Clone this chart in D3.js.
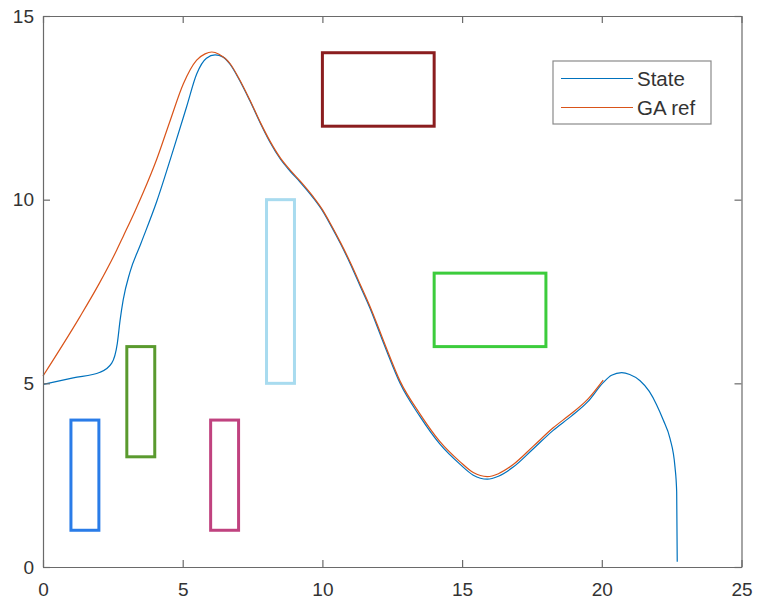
<!DOCTYPE html>
<html>
<head>
<meta charset="utf-8">
<script src="https://cdn.jsdelivr.net/npm/d3@7"></script>
<style>
  html, body { margin: 0; padding: 0; background: #fff; }
  svg { display: block; }
</style>
</head>
<body>
<svg id="chart" width="757" height="603"></svg>
<script>
// ---- Data ----
const xTicks = [0, 5, 10, 15, 20, 25];
const yTicks = [0, 5, 10, 15];

const stateX = [0, 1.08, 2.04, 2.46, 2.66, 2.76, 2.87, 3.11, 3.5, 4.07, 4.66, 5.14, 5.5, 5.85, 6.16, 6.45, 6.7, 7.0, 7.4, 7.8, 8.12, 8.5, 8.84, 9.2, 9.67, 10.0, 10.3, 10.65, 11.0, 11.35, 11.7, 12.06, 12.3, 12.78, 13.49, 14.2, 14.92, 15.4, 15.9, 16.3, 16.83, 17.55, 18.26, 18.9, 19.5, 20.05, 20.35, 20.71, 21.0, 21.37, 21.7, 21.96, 22.2, 22.44, 22.62, 22.68, 22.7];
const stateY = [4.97, 5.15, 5.3, 5.55, 6.09, 6.72, 7.27, 8.02, 8.8, 9.95, 11.35, 12.53, 13.42, 13.85, 13.94, 13.88, 13.68, 13.3, 12.7, 12.05, 11.57, 11.1, 10.78, 10.48, 10.05, 9.7, 9.3, 8.8, 8.25, 7.65, 7.05, 6.35, 5.88, 5.0, 4.1, 3.35, 2.8, 2.5, 2.39, 2.47, 2.72, 3.22, 3.72, 4.1, 4.5, 5.02, 5.22, 5.29, 5.24, 5.07, 4.78, 4.42, 4.0, 3.5, 2.72, 2.05, 0.14];

const refX = [0, 1.32, 2.0, 2.64, 2.87, 3.3, 3.59, 4.07, 4.55, 5.02, 5.5, 5.8, 6.04, 6.3, 6.7, 7.0, 7.4, 7.8, 8.12, 8.5, 8.84, 9.2, 9.67, 10.0, 10.3, 10.65, 11.0, 11.35, 11.7, 12.06, 12.3, 12.78, 13.49, 14.2, 14.92, 15.4, 15.9, 16.3, 16.83, 17.55, 18.26, 18.9, 19.5, 20.05];
const refY = [5.2, 6.81, 7.7, 8.63, 9.0, 9.7, 10.2, 11.1, 12.15, 13.15, 13.8, 13.97, 14.02, 13.96, 13.7, 13.32, 12.72, 12.07, 11.6, 11.13, 10.81, 10.51, 10.08, 9.73, 9.33, 8.83, 8.29, 7.7, 7.1, 6.41, 5.94, 5.06, 4.17, 3.42, 2.87, 2.57, 2.46, 2.54, 2.79, 3.29, 3.79, 4.17, 4.57, 5.09];

const seriesNames = ["State", "GA ref"];
const seriesColors = ["#0072BD", "#D95319"];

// obstacles
const obsNames = ["o1", "o2", "o3", "o4", "o5", "o6"];
const obsX0 = [1, 3, 6, 8, 10, 14];
const obsX1 = [2, 4, 7, 9, 14, 18];
const obsY0 = [1, 3, 1, 5, 12, 6];
const obsY1 = [4, 6, 4, 10, 14, 8];
const obsColors = ["#2a7ce8", "#5a9a2e", "#c0427f", "#a8dbef", "#8b1d1f", "#3ccc3c"];

// ---- Layout ----
const svg = d3.select("#chart");
const L = 43, R = 741.5, T = 16, B = 567;
const x = d3.scaleLinear().domain([0, 25]).range([L, R]);
const y = d3.scaleLinear().domain([0, 15]).range([B, T]);
const axisColor = "#6a6a6a";
const textColor = "#333";
const font = "'Liberation Sans', Arial, Helvetica, sans-serif";

// obstacles
obsNames.forEach((n, i) => {
  svg.append("rect")
    .attr("x", x(obsX0[i]))
    .attr("y", y(obsY1[i]))
    .attr("width", x(obsX1[i]) - x(obsX0[i]))
    .attr("height", y(obsY0[i]) - y(obsY1[i]))
    .attr("fill", "none")
    .attr("stroke", obsColors[i])
    .attr("stroke-width", 3);
});

// lines
const line = d3.line().x(d => x(d[0])).y(d => y(d[1])).curve(d3.curveMonotoneX);
const stateData = stateX.map((v, i) => [v, stateY[i]]);
const refData = refX.map((v, i) => [v, refY[i]]);
svg.append("path").datum(stateData).attr("d", line)
  .attr("fill", "none").attr("stroke", seriesColors[0]).attr("stroke-width", 1.2);
svg.append("path").datum(refData).attr("d", line)
  .attr("fill", "none").attr("stroke", seriesColors[1]).attr("stroke-width", 1.2);

// axes (box with inward ticks)
const tickLen = 7;
const axB = svg.append("g").attr("transform", `translate(0,${B})`)
  .call(d3.axisBottom(x).tickValues(xTicks).tickSizeInner(-tickLen).tickSizeOuter(0).tickPadding(16));
const axT = svg.append("g").attr("transform", `translate(0,${T})`)
  .call(d3.axisTop(x).tickValues(xTicks).tickSizeInner(-tickLen).tickSizeOuter(0).tickFormat(""));
const axL = svg.append("g").attr("transform", `translate(${L},0)`)
  .call(d3.axisLeft(y).tickValues(yTicks).tickSizeInner(-tickLen).tickSizeOuter(0).tickPadding(9));
const axR = svg.append("g").attr("transform", `translate(${R},0)`)
  .call(d3.axisRight(y).tickValues(yTicks).tickSizeInner(-tickLen).tickSizeOuter(0).tickFormat(""));
[axB, axT, axL, axR].forEach(a => {
  a.selectAll(".domain").attr("stroke", axisColor).attr("stroke-width", 1.2);
  a.selectAll(".tick line").attr("stroke", axisColor).attr("stroke-width", 1.2);
  a.selectAll("text").attr("fill", textColor).style("font-family", font).style("font-size", "19px");
});
axB.selectAll("text").attr("dy", "0.71em");

// legend
const lg = svg.append("g");
lg.append("rect").attr("x", 553).attr("y", 61).attr("width", 158).attr("height", 63)
  .attr("fill", "#fff").attr("stroke", "#8a8a8a").attr("stroke-width", 1.2);
seriesNames.forEach((n, i) => {
  const yy = 78.5 + i * 29;
  lg.append("line").attr("x1", 561).attr("x2", 633).attr("y1", yy).attr("y2", yy)
    .attr("stroke", seriesColors[i]).attr("stroke-width", 1.2);
  lg.append("text").attr("x", 637).attr("y", yy).attr("dy", "0.35em")
    .attr("fill", textColor).style("font-family", font).style("font-size", "20.5px").text(n);
});
</script>
</body>
</html>
